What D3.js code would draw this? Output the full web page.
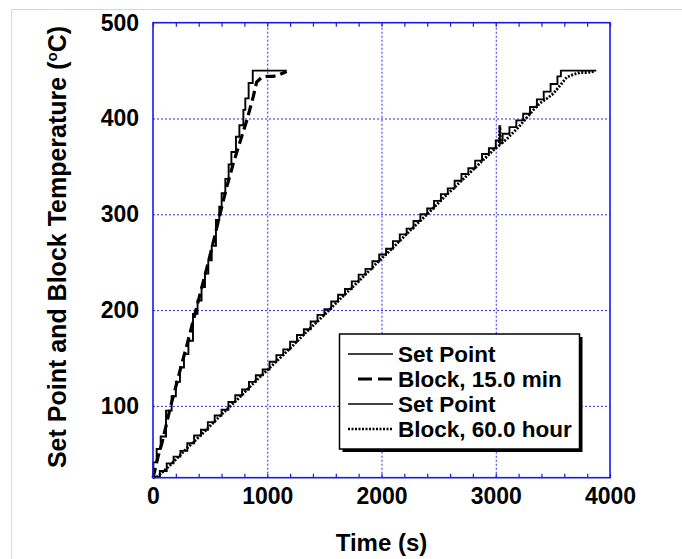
<!DOCTYPE html>
<html>
<head>
<meta charset="utf-8">
<script src="https://cdn.jsdelivr.net/npm/d3@7"></script>
<style>
body { margin: 0; background: #fff; }
text { font-family: "Liberation Sans", Arial, sans-serif; font-weight: bold; fill: #000; }
</style>
</head>
<body>
<svg id="chart" width="682" height="559"></svg>
<script>
// 15 min ramp: set point (stepped) and block temperature
var fastSetTime = [0, 3, 32, 67, 114, 163, 200, 236, 271, 310, 350, 390, 425, 455, 484, 514, 551, 580, 601, 633, 662, 686, 726, 756, 791, 808, 837, 873, 1170];
var fastSetTemp = [25, 41, 55, 68, 95, 110, 125, 140, 154, 168, 196, 210, 224, 238, 252, 267, 294, 308, 322, 337, 352, 365, 381, 393, 409, 421, 437, 450, 450];
var fastBlockTime = [0, 15, 40, 80, 120, 155, 200, 250, 300, 376, 430, 480, 530, 586, 640, 700, 760, 826, 878, 907, 951, 1000, 1053, 1110, 1170];
var fastBlockTemp = [25, 32, 45, 62, 82, 100, 120, 143, 165, 200, 225, 248, 272, 300, 326, 352, 375, 400, 423, 438, 443, 444, 444, 446, 449];

// 60.0 hour ramp
var slowSetTime = [0, 60, 120, 180, 240, 300, 360, 420, 480, 540, 600, 660, 720, 780, 840, 900, 960, 1020, 1080, 1140, 1200, 1260, 1320, 1380, 1440, 1500, 1560, 1620, 1680, 1740, 1800, 1860, 1920, 1980, 2040, 2100, 2160, 2220, 2280, 2340, 2400, 2460, 2520, 2580, 2640, 2700, 2760, 2820, 2880, 2940, 3000, 3060, 3120, 3180, 3240, 3300, 3360, 3420, 3480, 3540, 3570, 3880];
var slowSetTemp = [26, 32, 40, 47, 53, 61, 69, 75, 83, 90, 96, 104, 111, 117, 125, 132, 138, 146, 153, 159, 167, 174, 180, 188, 195, 201, 209, 216, 222, 230, 237, 243, 251, 258, 264, 272, 279, 285, 293, 300, 306, 314, 321, 327, 335, 342, 348, 356, 363, 369, 377, 384, 391, 398, 405, 412, 420, 428, 436, 444, 450, 450];
var slowBlockTime = [0, 40, 150, 300, 450, 600, 750, 900, 1050, 1200, 1350, 1500, 1650, 1800, 1950, 2100, 2250, 2400, 2550, 2700, 2850, 2980, 3030, 3036, 3042, 3100, 3200, 3265, 3330, 3387, 3450, 3504, 3560, 3621, 3680, 3737, 3800, 3869];
var slowBlockTemp = [25, 26, 38, 56, 73, 91, 108, 126, 143, 160, 178, 195, 213, 230, 248, 265, 283, 300, 318, 335, 352, 367, 372, 393, 373, 379, 391, 400, 409, 416, 421, 426, 434, 443, 446, 448, 448, 449];

var xTicks = [0, 1000, 2000, 3000, 4000];
var xMinorTicks = d3.range(0, 4001, 200);
var yTicks = [100, 200, 300, 400, 500];
var legendLabels = ["Set Point", "Block, 15.0 min", "Set Point", "Block, 60.0 hour"];

var svg = d3.select("#chart");
var plotLeft = 153, plotRight = 610, plotTop = 22.7, plotBottom = 477.7;

var x = d3.scaleLinear().domain([0, 4000]).range([plotLeft, plotRight]);
var y = d3.scaleLinear().domain([25, 500]).range([plotBottom, plotTop]);

// outer light border
svg.append("line").attr("x1", 11.5).attr("x2", 682).attr("y1", 9.5).attr("y2", 9.5)
    .style("stroke", "#d6d6d6").style("stroke-width", 1);
svg.append("line").attr("x1", 11.5).attr("x2", 11.5).attr("y1", 9.5).attr("y2", 559)
    .style("stroke", "#d6d6d6").style("stroke-width", 1);

// grid
var gridX = svg.append("g").attr("transform", "translate(0," + plotBottom + ")")
    .call(d3.axisBottom(x).tickValues([1000, 2000, 3000]).tickSize(-(plotBottom - plotTop)).tickFormat(""));
var gridY = svg.append("g").attr("transform", "translate(" + plotLeft + ",0)")
    .call(d3.axisLeft(y).tickValues([100, 200, 300, 400]).tickSize(-(plotRight - plotLeft)).tickFormat(""));
[gridX, gridY].forEach(function (g) {
    g.select(".domain").remove();
    g.selectAll("line").style("stroke", "#2a2af0").style("stroke-width", 1).style("stroke-dasharray", "2,2");
});

// minor ticks top and bottom
var tb = svg.append("g").attr("transform", "translate(0," + plotBottom + ")")
    .call(d3.axisBottom(x).tickValues(xMinorTicks).tickSize(-4).tickFormat(""));
var tt = svg.append("g").attr("transform", "translate(0," + plotTop + ")")
    .call(d3.axisTop(x).tickValues(xMinorTicks).tickSize(-4).tickFormat(""));
[tb, tt].forEach(function (g) {
    g.select(".domain").remove();
    g.selectAll("line").style("stroke", "#1a1ae8").style("stroke-width", 1.2);
});

// tick labels
var xl = svg.append("g").attr("transform", "translate(0," + plotBottom + ")")
    .call(d3.axisBottom(x).tickValues(xTicks).tickSize(0).tickPadding(10).tickFormat(d3.format("d")));
var yl = svg.append("g").attr("transform", "translate(" + plotLeft + ",0)")
    .call(d3.axisLeft(y).tickValues(yTicks).tickSize(0).tickPadding(14).tickFormat(d3.format("d")));
[xl, yl].forEach(function (g) {
    g.select(".domain").remove();
    g.selectAll("text").style("font-size", "23px").style("font-family", "'Liberation Sans', Arial, sans-serif").style("font-weight", "bold");
});

// data lines
var stepLine = d3.line().x(function (d) { return x(d[0]); }).y(function (d) { return y(d[1]); }).curve(d3.curveStepAfter);
var plainLine = d3.line().x(function (d) { return x(d[0]); }).y(function (d) { return y(d[1]); });

function pairs(ts, vs) {
    return ts.map(function (t, i) { return [t, vs[i]]; });
}

var series = [
    { data: pairs(fastSetTime, fastSetTemp), gen: stepLine, width: 1.9, dash: null },
    { data: pairs(fastBlockTime, fastBlockTemp), gen: plainLine, width: 3.2, dash: "10,5" },
    { data: pairs(slowSetTime, slowSetTemp), gen: stepLine, width: 1.9, dash: null },
    { data: pairs(slowBlockTime, slowBlockTemp), gen: plainLine, width: 2.8, dash: "2,1.5" }
];

series.forEach(function (s) {
    svg.append("path")
        .attr("d", s.gen(s.data))
        .style("fill", "none")
        .style("stroke", "#000")
        .style("stroke-width", s.width)
        .style("stroke-dasharray", s.dash);
});

// frame
svg.append("rect")
    .attr("x", plotLeft).attr("y", plotTop)
    .attr("width", plotRight - plotLeft).attr("height", plotBottom - plotTop)
    .style("fill", "none").style("stroke", "#1a1ae8").style("stroke-width", 1.6);

// axis titles
svg.append("text")
    .attr("x", (plotLeft + plotRight) / 2).attr("y", 551)
    .attr("text-anchor", "middle")
    .style("font-size", "24px")
    .text("Time (s)");

var yt = svg.append("text")
    .attr("transform", "translate(66,247) rotate(-90)")
    .attr("text-anchor", "middle")
    .style("font-size", "25px");
yt.append("tspan").text("Set Point and Block Temperature (");
yt.append("tspan").attr("dy", -9).style("font-size", "15px").text("o");
yt.append("tspan").attr("dy", 9).text("C)");

// legend
var lg = svg.append("g");
lg.append("rect").attr("x", 342.5).attr("y", 337).attr("width", 240).attr("height", 115).style("fill", "#000");
lg.append("rect").attr("x", 339.5).attr("y", 334).attr("width", 240).attr("height", 115)
    .style("fill", "#fff").style("stroke", "#000").style("stroke-width", 1.5);

var legendStyles = [
    { x1: 348, width: 1.6, dash: null },
    { x1: 358, width: 3.2, dash: "14,6" },
    { x1: 348, width: 1.6, dash: null },
    { x1: 348, width: 2.5, dash: "2,1.5" }
];
legendLabels.forEach(function (label, i) {
    var ly = 354 + i * 25;
    lg.append("line").attr("x1", legendStyles[i].x1).attr("x2", 393).attr("y1", ly).attr("y2", ly)
        .style("stroke", "#000").style("stroke-width", legendStyles[i].width)
        .style("stroke-dasharray", legendStyles[i].dash);
    lg.append("text").attr("x", 398).attr("y", ly + 8)
        .style("font-size", "22.5px").text(label);
});
</script>
</body>
</html>
